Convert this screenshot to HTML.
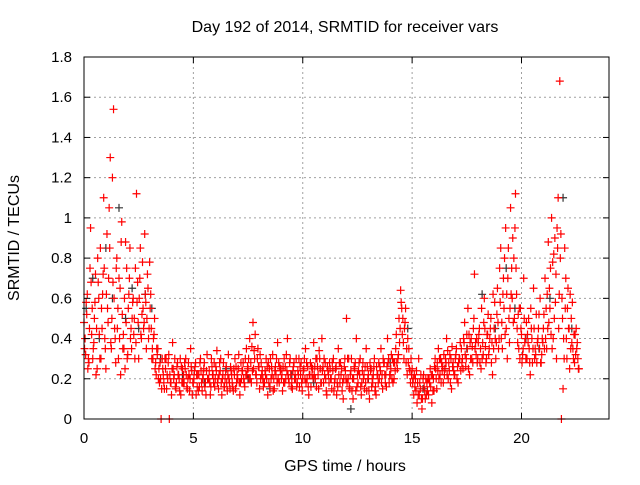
<!DOCTYPE html>
<html><head><meta charset="utf-8"><style>
body{margin:0;background:#fff}
svg text{font-family:"Liberation Sans",Arial,sans-serif;font-size:15px;fill:#000}
svg text.big{font-size:16px}
</style></head><body>
<svg id="chart" width="640" height="480" xmlns="http://www.w3.org/2000/svg">
<text class="big" x="345" y="32" text-anchor="middle">Day 192 of 2014, SRMTID for receiver vars</text>
<text class="big" transform="translate(19,238) rotate(-90)" text-anchor="middle">SRMTID / TECUs</text>
<text class="big" x="345" y="471" text-anchor="middle">GPS time / hours</text>
<g id="grid"></g><g id="gray"></g><g id="red"></g><g id="axes"></g>
</svg>
<script>
const xTicks=[0,5,10,15,20];
const yTicks=[0,0.2,0.4,0.6,0.8,1,1.2,1.4,1.6,1.8];
const yTickLabels=["0","0.2","0.4","0.6","0.8","1","1.2","1.4","1.6","1.8"];
const redStep=0.075;
const redValues=[.48,.32,.62,.28,.95,.55,.38,.72,.25,.60,
.85,.45,1.1,.35,.92,.70,1.3,.50,1.54,.40,
.80,.30,.65,.98,.42,.25,.75,.55,.85,.35,
.60,.30,1.12,.48,.70,.40,.55,.92,.35,.65,
.78,.45,.30,.50,.22,.35,.18,.00,.25,.15,
.30,.20,.00,.18,.38,.22,.15,.28,.20,.12,
.25,.18,.30,.15,.22,.35,.12,.20,.28,.16,
.22,.30,.14,.25,.18,.32,.20,.12,.26,.18,
.20,.34,.15,.24,.12,.28,.20,.18,.32,.15,
.22,.14,.30,.18,.25,.12,.20,.28,.16,.35,
.25,.40,.18,.48,.30,.22,.35,.15,.28,.20,
.18,.30,.12,.25,.20,.32,.15,.22,.38,.18,
.25,.14,.30,.20,.40,.18,.22,.15,.28,.20,
.18,.30,.22,.14,.25,.35,.20,.12,.28,.22,
.38,.20,.30,.15,.25,.40,.18,.28,.12,.22,
.25,.15,.30,.20,.12,.35,.18,.25,.10,.30,
.50,.20,.15,.30,.10,.25,.40,.18,.22,.12,
.28,.15,.35,.20,.10,.25,.18,.30,.12,.22,
.20,.35,.15,.28,.22,.40,.18,.25,.30,.20,
.35,.25,.50,.64,.42,.30,.55,.22,.35,.18,
.25,.12,.20,.08,.30,.15,.05,.22,.10,.18,
.12,.25,.08,.20,.30,.15,.35,.22,.28,.18,
.25,.40,.20,.32,.15,.28,.22,.35,.18,.30,
.35,.25,.48,.30,.55,.22,.40,.28,.72,.32,
.30,.45,.25,.38,.60,.28,.42,.35,.50,.22,
.45,.30,.65,.40,.85,.35,.55,.95,.30,.50,
1.05,.60,.80,1.12,.45,.35,.55,.28,.70,.40,
.30,.50,.22,.40,.65,.35,.28,.45,.60,.32,
.45,.70,.35,.88,.55,1.0,.40,.90,.30,1.1,
1.68,.00,.15,.85,.40,.65,.25,.50,.35,.28,
.45,.30];
const redValues2=[.35,.58,.25,.45,.68,.30,.50,.22,.80,.42,
.30,.62,.75,.25,.55,1.05,.38,1.2,.60,.28,
.45,.70,.22,.52,.35,.88,.30,.62,.40,.50,
.42,.75,.58,.30,.85,.52,.45,.62,.50,.40,
.55,.30,.40,.25,.35,.20,.28,.15,.22,.30,
.15,.28,.22,.12,.25,.30,.18,.22,.14,.26,
.18,.28,.22,.20,.14,.26,.18,.24,.12,.22,
.16,.24,.20,.28,.12,.20,.24,.16,.22,.28,
.26,.18,.22,.30,.20,.16,.24,.14,.20,.26,
.18,.25,.15,.22,.32,.18,.24,.20,.30,.22,
.30,.20,.36,.25,.42,.18,.26,.32,.22,.16,
.24,.20,.28,.16,.26,.14,.24,.30,.20,.26,
.20,.26,.18,.32,.22,.28,.16,.24,.20,.30,
.24,.16,.28,.20,.30,.18,.26,.22,.16,.25,
.22,.30,.26,.34,.18,.24,.30,.20,.26,.18,
.20,.28,.14,.25,.18,.22,.28,.14,.20,.24,
.18,.30,.22,.14,.20,.28,.16,.24,.30,.18,
.20,.26,.14,.22,.28,.16,.22,.14,.26,.18,
.26,.18,.30,.22,.16,.28,.22,.32,.18,.28,
.42,.30,.38,.58,.50,.45,.28,.40,.25,.30,
.18,.22,.14,.18,.12,.22,.10,.16,.20,.14,
.20,.16,.22,.14,.25,.28,.20,.30,.24,.32,
.30,.22,.28,.18,.36,.24,.30,.20,.28,.38,
.28,.40,.32,.42,.25,.38,.30,.45,.35,.40,
.38,.28,.55,.32,.45,.30,.52,.40,.28,.62,
.58,.38,.48,.75,.40,.62,.80,.45,.70,.38,
.62,.90,.50,.75,.38,.55,.45,.32,.50,.30,
.42,.35,.55,.28,.45,.32,.38,.52,.28,.40,
.52,.40,.62,.48,.75,.35,.82,.58,.95,.45,
.80,.60,.40,.55,.30,.45,.62,.38,.30,.42,
.35,.25];
const redValues3=[.40,.52,.30,.75,.42,.35,.58,.45,.68,.30,
.55,.72,.40,.62,.48,.85,.35,.68,.45,.75,
.55,.40,.88,.35,.60,.48,.32,.70,.45,.58,
.50,.38,.68,.60,.42,.78,.48,.58,.72,.45,
.62,.35,.42,.28,.32,.25,.20,.30,.18,.25,
.22,.32,.18,.25,.20,.16,.26,.22,.30,.18,
.22,.25,.16,.28,.20,.24,.18,.26,.22,.14,
.28,.18,.22,.16,.24,.20,.18,.30,.22,.16,
.24,.20,.28,.18,.22,.16,.26,.22,.18,.24,
.16,.22,.26,.20,.18,.28,.24,.18,.22,.26,
.20,.28,.24,.34,.22,.30,.26,.20,.24,.18,
.22,.26,.18,.30,.22,.20,.26,.18,.28,.24,
.22,.18,.26,.24,.20,.30,.18,.26,.22,.16,
.22,.26,.18,.24,.20,.28,.16,.22,.26,.20,
.26,.16,.22,.30,.18,.26,.22,.14,.24,.28,
.20,.24,.18,.26,.16,.28,.22,.18,.26,.20,
.30,.16,.24,.20,.26,.14,.22,.28,.16,.24,
.22,.18,.26,.14,.24,.20,.26,.16,.22,.28,
.24,.22,.28,.18,.26,.30,.22,.20,.28,.24,
.28,.32,.45,.55,.38,.48,.35,.28,.24,.22,
.20,.16,.24,.12,.18,.10,.20,.14,.12,.20,
.18,.22,.14,.26,.20,.24,.30,.18,.26,.22,
.28,.34,.24,.30,.26,.22,.32,.26,.30,.24,
.30,.38,.26,.35,.42,.30,.36,.50,.38,.28,
.42,.35,.30,.48,.36,.42,.32,.45,.38,.35,
.40,.52,.35,.58,.48,.70,.42,.62,.85,.55,
.75,.48,.95,.62,.52,.30,.42,.35,.38,.48,
.38,.28,.45,.35,.30,.52,.40,.35,.28,.38,
.35,.55,.45,.65,.42,.78,.50,.72,.85,.62,
.92,.50,.30,.70,.55,.45,.35,.58,.42,.32,
.38,.25];
const grayX=[0.1,0.4,0.7,1.0,1.3,1.6,1.9,2.2,2.5,2.8,3.1,3.5,4.5,5.5,6.5,7.5,8.5,9.5,10.5,11.5,12.2,13,14,14.8,15.5,16.5,17.5,18.2,18.8,19.3,19.7,20.2,20.8,21.3,21.9,22.3];
const grayValues=[.55,.70,.40,.85,.60,1.05,.50,.65,.45,.62,.55,.30,.22,.18,.25,.20,.15,.22,.18,.25,.05,.20,.28,.45,.15,.25,.35,.62,.45,.75,.55,.40,.35,.60,1.1,.45];
const X0=84,X1=609,Y0=419,Y1=57,XMAX=24,YMAX=1.8;
const sx=v=>X0+v/XMAX*(X1-X0), sy=v=>Y0-v/YMAX*(Y0-Y1);
const NS="http://www.w3.org/2000/svg";
function mk(t,a,p){const e=document.createElementNS(NS,t);for(const k in a)e.setAttribute(k,a[k]);p.appendChild(e);return e;}
const grid=document.getElementById('grid'),axes=document.getElementById('axes');
xTicks.forEach(t=>{const x=sx(t);
 if(t>0){const g=mk('line',{x1:x,x2:x,y1:Y0,y2:Y1,stroke:'#a0a0a0','stroke-dasharray':'2,3'},grid);}
 const l=mk('text',{x:x,y:Y0+24,'text-anchor':'middle'},axes);l.textContent=t;
 mk('line',{x1:x,x2:x,y1:Y0,y2:Y0-6,stroke:'#000'},axes);mk('line',{x1:x,x2:x,y1:Y1,y2:Y1+6,stroke:'#000'},axes);});
yTicks.forEach((t,i)=>{const y=sy(t);
 if(t>0&&t<YMAX){const g=mk('line',{x1:X0,x2:X1,y1:y,y2:y,stroke:'#a0a0a0','stroke-dasharray':'2,3'},grid);}
 const l=mk('text',{x:X0-12,y:y+5,'text-anchor':'end'},axes);l.textContent=yTickLabels[i];
 mk('line',{x1:X0,x2:X0+6,y1:y,y2:y,stroke:'#000'},axes);mk('line',{x1:X1,x2:X1-6,y1:y,y2:y,stroke:'#000'},axes);});
const b=mk('rect',{x:X0,y:Y1,width:X1-X0,height:Y0-Y1,fill:'none',stroke:'#000'},axes);

function plus(g,x,y,c,name){const p=mk('path',{d:`M${x-4} ${y}h8M${x} ${y-4}v8`,stroke:c,'stroke-width':1.2,fill:'none'},g);
 }
const gg=document.getElementById('gray'),rg=document.getElementById('red');
grayValues.forEach((v,i)=>plus(gg,sx(grayX[i]),sy(v),'#333','gray-point'));
redValues.forEach((v,i)=>plus(rg,sx(i*redStep),sy(v),'#ff0000','red-point'));
redValues2.forEach((v,i)=>plus(rg,sx(i*redStep+0.025),sy(v),'#ff0000','red-point'));
redValues3.forEach((v,i)=>plus(rg,sx(i*redStep+0.05),sy(v),'#ff0000','red-point'));
</script>
</body></html>
